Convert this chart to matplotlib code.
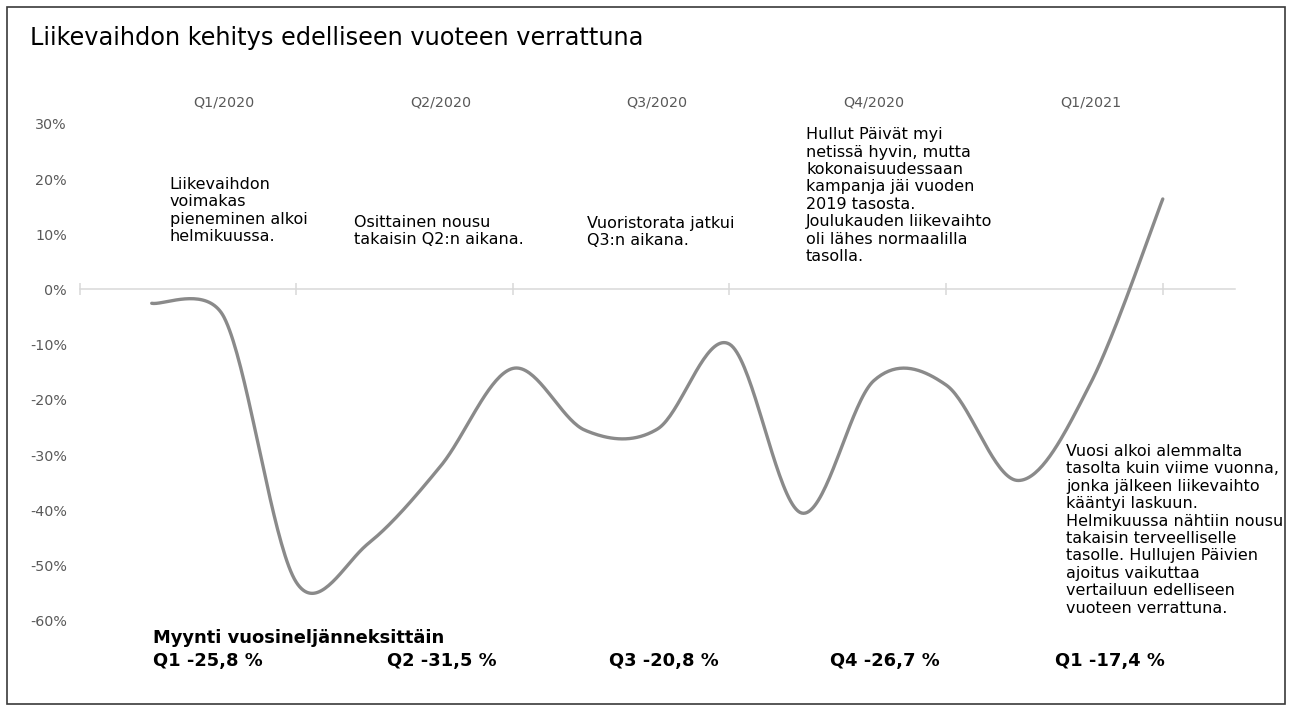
import numpy as np
import matplotlib
matplotlib.use("Agg")
import matplotlib.pyplot as plt
from matplotlib.patches import Rectangle

# Data
months = ["01/2020", "02/2020", "03/2020", "04/2020", "05/2020", "06/2020",
          "07/2020", "08/2020", "09/2020", "10/2020", "11/2020", "12/2020",
          "01/2021", "02/2021", "03/2021"]
change = [-2.5, -5.0, -53.0, -46.0, -32.0, -14.3, -25.5, -25.3, -9.9,
          -40.5, -16.5, -17.3, -34.6, -17.0, 16.4]

quarters = ["Q1/2020", "Q2/2020", "Q3/2020", "Q4/2020", "Q1/2021"]
quarter_sales = ["Q1 -25,8 %", "Q2 -31,5 %", "Q3 -20,8 %", "Q4 -26,7 %", "Q1 -17,4 %"]

notes = [
    "Liikevaihdon\nvoimakas\npieneminen alkoi\nhelmikuussa.",
    "Osittainen nousu\ntakaisin Q2:n aikana.",
    "Vuoristorata jatkui\nQ3:n aikana.",
    "Hullut Päivät myi\nnetissä hyvin, mutta\nkokonaisuudessaan\nkampanja jäi vuoden\n"
    "2019 tasosta.\nJoulukauden liikevaihto\noli lähes normaalilla\ntasolla.",
    "Vuosi alkoi alemmalta\ntasolta kuin viime vuonna,\njonka jälkeen liikevaihto\n"
    "kääntyi laskuun.\nHelmikuussa nähtiin nousu\ntakaisin terveelliselle\n"
    "tasolle. Hullujen Päivien\najoitus vaikuttaa\nvertailuun edelliseen\nvuoteen verrattuna.",
]


def smooth_line(xs, ys, yscale, n=40):
    """
    Excel-tyylinen pehmennetty viiva: Bezier, kontrollipisteet 1/6
    naapurien erotuksesta, pituus rajattu puoleen segmentistä
    """
    P = np.column_stack([xs, np.asarray(ys, dtype=float) * yscale])

    def offset(a, b, seg_len):
        v = (b - a) / 6
        n_v = np.linalg.norm(v)
        if n_v > seg_len / 2:
            v = v * (seg_len / 2) / n_v
        return v

    out = []
    for i in range(len(P) - 1):
        p0 = P[i - 1] if i > 0 else P[i]
        p1, p2 = P[i], P[i + 1]
        p3 = P[i + 2] if i + 2 < len(P) else P[i + 1]
        d12 = np.linalg.norm(p2 - p1)
        c1 = p1 + offset(p0, p2, d12)
        c2 = p2 - offset(p1, p3, d12)
        t = np.linspace(0, 1, n)[:, None]
        seg = ((1 - t) ** 3) * p1 + 3 * ((1 - t) ** 2) * t * c1 + 3 * (1 - t) * t ** 2 * c2 + t ** 3 * p2
        out.append(seg if i == 0 else seg[1:])
    out = np.vstack(out)
    return out[:, 0], out[:, 1] / yscale


W, H = 1293, 711
fig = plt.figure(figsize=(W / 100, H / 100), dpi=100)
fig.patch.set_facecolor("white")
fig.patches.append(Rectangle((7 / W, 1 - 704 / H), 1278 / W, 697 / H, transform=fig.transFigure,
                             fill=False, edgecolor="#3a3a3a", linewidth=1.2))

ax = fig.add_axes([79.5 / W, 1 - 620.7 / H, (1235 - 79.5) / W, (620.7 - 123.9) / H])
ax.set_xlim(0, 16)
ax.set_ylim(-60, 30)

x = np.arange(1, len(change) + 1)
sx, sy = smooth_line(x, change, 5.52 / 72.2)
ax.plot(sx, sy, color="#8a8a8a", linewidth=2.4, solid_capstyle="round", zorder=3)

# Axes style
for side in ["top", "right", "left"]:
    ax.spines[side].set_visible(False)
ax.spines["bottom"].set_position(("data", 0))
ax.spines["bottom"].set_color("#d9d9d9")
ax.spines["bottom"].set_linewidth(1.1)
ax.set_xticks(np.arange(0, 16, 3))
ax.tick_params(axis="x", direction="inout", length=8, width=1.1, color="#d9d9d9", labelbottom=False)
ax.set_yticks(np.arange(-60, 31, 10))
ax.set_yticklabels([f"{v}%" for v in range(-60, 31, 10)])
ax.tick_params(axis="y", length=0, pad=9, labelsize=10.3, labelcolor="#595959")

# Quarter labels
for i, q in enumerate(quarters):
    ax.text(2 + 3 * i, 33.8, q, ha="center", va="center", fontsize=10.3,
            color="#595959", clip_on=False)

# Comments
note_pos = [(1.25, 20.4), (3.80, 13.5), (7.03, 13.3), (10.06, 29.4), (13.66, -28.0)]
for (nx, ny), txt in zip(note_pos, notes):
    ax.text(nx, ny, txt, ha="left", va="top", fontsize=11.5, color="black",
            linespacing=1.2, clip_on=False)

# Title and quarterly sales
fig.text(30 / W, 1 - 45 / H, "Liikevaihdon kehitys edelliseen vuoteen verrattuna",
         fontsize=17.3, color="black", va="baseline", ha="left")
fig.text(153 / W, 1 - 638 / H, "Myynti vuosineljänneksittäin", fontsize=12.9,
         fontweight="bold", va="center", ha="left")
for px, s in zip([153, 387, 609, 830, 1055], quarter_sales):
    fig.text(px / W, 1 - 661 / H, s, fontsize=12.9, fontweight="bold", va="center", ha="left")

fig.savefig("out.png", dpi=100)
